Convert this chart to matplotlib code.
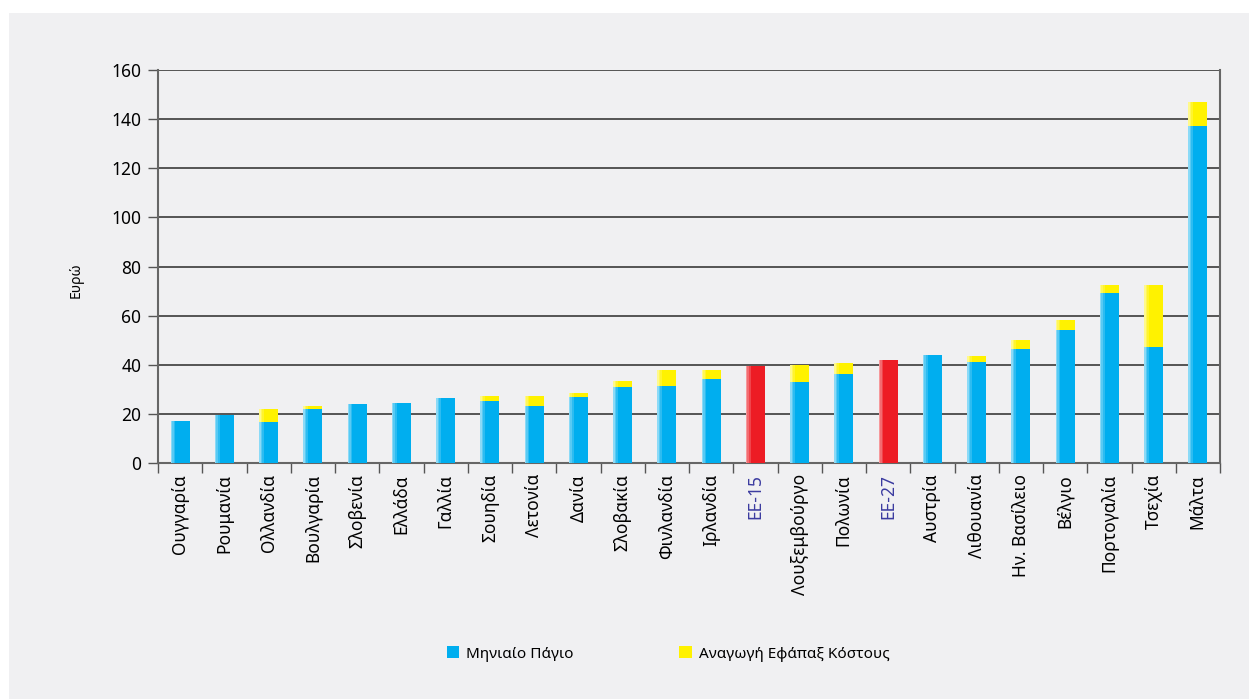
import numpy as np
import matplotlib
matplotlib.use('Agg')
from matplotlib import pyplot as plt
from matplotlib.patches import Rectangle, Patch

plt.rcParams['font.family'] = ['Noto Sans', 'DejaVu Sans']

countries = ['Ουγγαρία', 'Ρουμανία', 'Ολλανδία', 'Βουλγαρία', 'Σλοβενία', 'Ελλάδα',
             'Γαλλία', 'Σουηδία', 'Λετονία', 'Δανία', 'Σλοβακία', 'Φινλανδία',
             'Ιρλανδία', 'ΕΕ-15', 'Λουξεμβούργο', 'Πολωνία', 'ΕΕ-27', 'Αυστρία',
             'Λιθουανία', 'Ην. Βασίλειο', 'Βέλγιο', 'Πορτογαλία', 'Τσεχία', 'Μάλτα']
monthly = [17.1, 19.5, 16.8, 22.0, 23.9, 24.4, 26.5, 25.4, 23.2, 27.0, 31.0, 31.5,
           34.3, 39.6, 33.0, 36.4, 42.1, 44.1, 41.1, 46.5, 54.0, 69.3, 47.3, 137.0]
oneoff = [0.0, 0.0, 5.1, 1.2, 0.0, 0.0, 0.0, 1.9, 4.1, 1.5, 2.5, 6.5,
          3.7, 0.0, 7.0, 4.3, 0.0, 0.0, 2.6, 3.7, 4.3, 3.3, 25.3, 9.8]
averages = ['ΕΕ-15', 'ΕΕ-27']

leg_monthly = 'Μηνιαίο Πάγιο'
leg_oneoff = 'Αναγωγή Εφάπαξ Κόστους'
ylabel = 'Ευρώ'

blue = '#00AEEF'
yellow = '#FFF200'
red = '#ED1C24'
bg = '#F0F0F2'

fig = plt.figure(figsize=(12.49, 6.99), dpi=100)
fig.patch.set_facecolor('white')
fig.patches.append(Rectangle((9 / 1249, 0), 1, 1 - 13 / 699, transform=fig.transFigure,
                             facecolor=bg, edgecolor='none', zorder=-10))

ax = fig.add_axes([158 / 1249, 1 - 463 / 699, (1220 - 158) / 1249, (463 - 70) / 699])
ax.set_facecolor(bg)

x = np.arange(len(countries))
w = 0.43
base_cols = [red if c in averages else blue for c in countries]


def shaded(ax, xs, heights, bottoms, cols):
    ax.bar(xs, heights, w, bottom=bottoms, color=cols, zorder=3, linewidth=0)
    # light highlight on the left side of each bar
    for k, a in enumerate([0.55, 0.35, 0.18]):
        ax.bar(np.array(xs) - w / 2 + (k * 0.035) + 0.0175, heights, 0.035,
               bottom=bottoms, color='white', alpha=a, zorder=4, linewidth=0)


shaded(ax, x, monthly, 0, base_cols)
idx = [i for i, v in enumerate(oneoff) if v > 0]
shaded(ax, x[idx], [oneoff[i] for i in idx], [monthly[i] for i in idx], yellow)

ax.set_xlim(-0.5, len(countries) - 0.5)
ax.set_ylim(0, 160)
ax.set_yticks(np.arange(0, 161, 20))
ax.yaxis.grid(True, color='#3a3a3a', linewidth=1.2, zorder=1)
ax.set_axisbelow(True)

ax.set_xticks(x)
ax.set_xticklabels(countries, rotation=90, fontsize=12.5)
ax.set_xticks(np.arange(-0.5, len(countries), 1), minor=True)
ax.tick_params(axis='x', which='major', length=0, pad=8)
ax.tick_params(axis='x', which='minor', length=7, width=1, color='#555555', direction='out')
ax.tick_params(axis='y', length=7, width=1, color='#555555', labelsize=12.5, pad=5)
for lab in ax.get_xticklabels():
    if lab.get_text() in averages:
        lab.set_color('#3B3BA0')

for s in ['left', 'right', 'bottom']:
    ax.spines[s].set_color('#666666')
    ax.spines[s].set_linewidth(1.5)
ax.spines['top'].set_visible(False)

fig.text(76 / 1249, 1 - 280 / 699, ylabel, rotation=90, ha='center', va='center', fontsize=10)

handles = [Patch(facecolor=blue, edgecolor='none'), Patch(facecolor=yellow, edgecolor='none')]
fig.legend(handles, [leg_monthly, leg_oneoff], loc='center', bbox_to_anchor=(0.535, 1 - 654 / 699),
           ncol=2, frameon=False, fontsize=11, handlelength=0.8, handleheight=0.8,
           handletextpad=0.5, columnspacing=6.9)

fig.savefig('out.png', dpi=100, facecolor=fig.get_facecolor())
